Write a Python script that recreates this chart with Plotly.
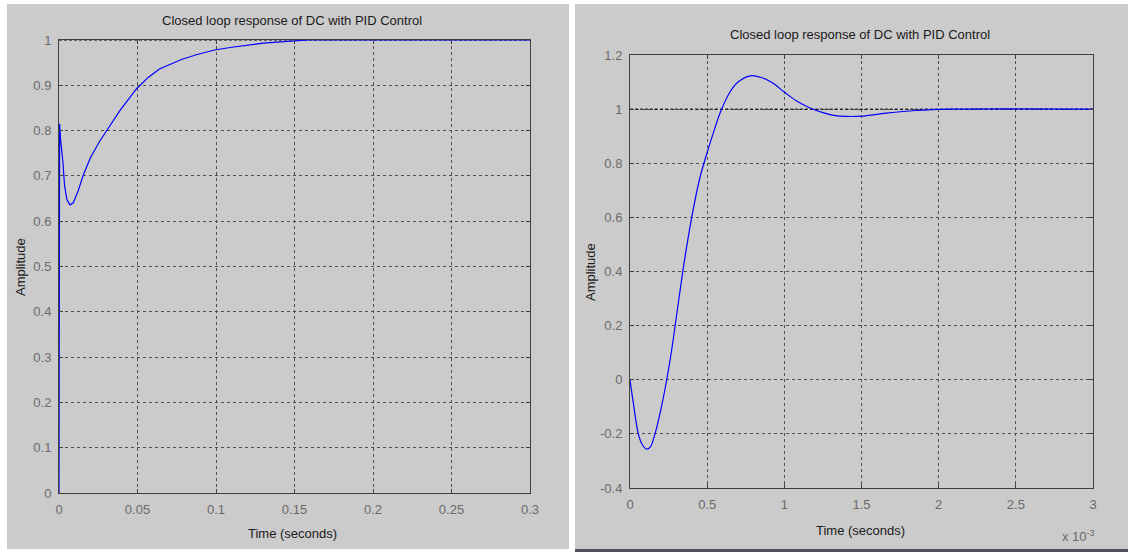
import plotly.graph_objects as go

W, H = 1128, 552

# ---------------- data ----------------
title_text = "Closed loop response of DC with PID Control"
x_title = "Time (seconds)"
y_title = "Amplitude"

# left panel: time in seconds
left_t = [0, 0.0002, 0.0004, 0.001, 0.0025, 0.0035, 0.005, 0.007, 0.009, 0.012,
          0.0155, 0.02, 0.026, 0.030, 0.039, 0.0495, 0.057, 0.064, 0.078, 0.088,
          0.099, 0.11, 0.12, 0.13, 0.141, 0.15, 0.159, 0.3]
left_y = [0, 0.45, 0.815, 0.78, 0.73, 0.68, 0.648, 0.636, 0.64, 0.665,
          0.702, 0.74, 0.777, 0.798, 0.845, 0.893, 0.918, 0.936, 0.957, 0.968,
          0.978, 0.984, 0.989, 0.993, 0.996, 0.998, 1.0, 1.0]
left_xticks = [0, 0.05, 0.1, 0.15, 0.2, 0.25, 0.3]
left_xlabels = ["0", "0.05", "0.1", "0.15", "0.2", "0.25", "0.3"]
left_yticks = [0, 0.1, 0.2, 0.3, 0.4, 0.5, 0.6, 0.7, 0.8, 0.9, 1.0]
left_ylabels = ["0", "0.1", "0.2", "0.3", "0.4", "0.5", "0.6", "0.7", "0.8", "0.9", "1"]

# right panel: time in units of 1e-3 s
right_t = [0, 0.02, 0.054, 0.08, 0.108, 0.13, 0.162, 0.2, 0.238, 0.27,
           0.30, 0.35, 0.40, 0.45, 0.50, 0.55, 0.59, 0.65, 0.70, 0.78,
           0.85, 0.92, 1.0, 1.08, 1.17, 1.25, 1.32, 1.40, 1.5, 1.66,
           1.85, 2.07, 3.0]
right_y = [0, -0.08, -0.2, -0.24, -0.256, -0.25, -0.2, -0.11, 0.0, 0.11,
           0.23, 0.43, 0.60, 0.74, 0.84, 0.93, 0.995, 1.065, 1.10, 1.123,
           1.117, 1.098, 1.063, 1.03, 1.003, 0.987, 0.977, 0.973, 0.974, 0.985,
           0.995, 1.0, 1.0]
right_xticks = [0, 0.5, 1, 1.5, 2, 2.5, 3]
right_xlabels = ["0", "0.5", "1", "1.5", "2", "2.5", "3"]
right_yticks = [-0.4, -0.2, 0, 0.2, 0.4, 0.6, 0.8, 1.0, 1.2]
right_ylabels = ["-0.4", "-0.2", "0", "0.2", "0.4", "0.6", "0.8", "1", "1.2"]
right_exponent = "x 10<sup>-3</sup>"

steady_value = 1.0

# ---------------- styling ----------------
FONT = "Liberation Sans Narrow, Arial Narrow, Liberation Sans, Arial, sans-serif"
PANEL = "#cbcbcb"
AXC = "#404040"
TICKC = "#6a6a6a"

# plotting area in pixels (margins)
ML, MR, MT, MB = 59, W - 1093, 40, H - 493
PW, PH = W - ML - MR, H - MT - MB


def dx(px):
    return (px - ML) / PW


def dy(py):
    return (H - MB - py) / PH


fig = go.Figure()

fig.add_trace(go.Scatter(x=[0, 0.3], y=[steady_value, steady_value], mode="lines",
                         line=dict(color="black", width=1, dash="3px,2px"),
                         xaxis="x", yaxis="y", showlegend=False, hoverinfo="skip"))
fig.add_trace(go.Scatter(x=left_t, y=left_y, mode="lines",
                         line=dict(color="#0000ff", width=1.2),
                         xaxis="x", yaxis="y", showlegend=False))
fig.add_trace(go.Scatter(x=[0, 3], y=[steady_value, steady_value], mode="lines",
                         line=dict(color="black", width=1, dash="3px,2px"),
                         xaxis="x2", yaxis="y2", showlegend=False, hoverinfo="skip"))
fig.add_trace(go.Scatter(x=right_t, y=right_y, mode="lines", line_shape="spline",
                         line=dict(color="#0000ff", width=1.2),
                         xaxis="x2", yaxis="y2", showlegend=False))


def axis(domain, rng, tickvals, ticktext, anchor, standoff):
    return dict(domain=domain, range=rng, anchor=anchor, automargin=False,
                tickvals=tickvals, ticktext=ticktext,
                showgrid=True, gridcolor="#505050", griddash="3px,3px", gridwidth=1,
                zeroline=False, showline=True, mirror="ticks", linecolor=AXC, linewidth=1,
                ticks="inside", ticklen=4, tickcolor=AXC,
                tickfont=dict(family=FONT, size=13, color=TICKC),
                ticklabelstandoff=standoff, fixedrange=True)


fig.update_layout(
    width=W, height=H, autosize=False,
    margin=dict(l=ML, r=MR, t=MT, b=MB, pad=0, autoexpand=False),
    paper_bgcolor="white", plot_bgcolor="white",
    xaxis=axis([dx(59), dx(530)], [0, 0.3], left_xticks, left_xlabels, "y", 4),
    yaxis=axis([dy(493), dy(40)], [0, 1], left_yticks, left_ylabels, "x", 4),
    xaxis2=axis([dx(630), dx(1093)], [0, 3], right_xticks, right_xlabels, "y2", 4),
    yaxis2=axis([dy(488), dy(55)], [-0.4, 1.2], right_yticks, right_ylabels, "x2", 4),
    shapes=[
        dict(type="rect", xref="paper", yref="paper", layer="below",
             x0=dx(7), x1=dx(569), y0=dy(549), y1=dy(4),
             fillcolor=PANEL, line=dict(width=0)),
        dict(type="rect", xref="paper", yref="paper", layer="below",
             x0=dx(575), x1=dx(1128), y0=dy(549), y1=dy(4),
             fillcolor=PANEL, line=dict(width=0)),
        dict(type="rect", xref="paper", yref="paper", layer="below",
             x0=dx(575), x1=dx(1128), y0=dy(552), y1=dy(549),
             fillcolor="#4c5258", line=dict(width=0)),
    ],
)

ann_font = dict(family=FONT, size=13, color="#1a1a1a")


def ann(text, px, py, **kw):
    d = dict(text=text, x=dx(px), y=dy(py), xref="paper", yref="paper",
             showarrow=False, font=ann_font, xanchor="center", yanchor="middle")
    d.update(kw)
    return d


annotations = [
    ann(title_text, 292, 20),
    ann(title_text, 860, 35),
    ann(x_title, 292, 533),
    ann(x_title, 860, 530),
    ann(y_title, 20, 267, textangle=-90),
    ann(y_title, 590, 272, textangle=-90),
    ann(right_exponent, 1078, 536, font=dict(family=FONT, size=13, color=TICKC)),
]
fig.update_layout(annotations=annotations)

fig.write_html(
    "out.html",
    config={"displayModeBar": False, "staticPlot": True},
    post_script="document.body.style.margin='0px';document.body.style.overflow='hidden';",
)
